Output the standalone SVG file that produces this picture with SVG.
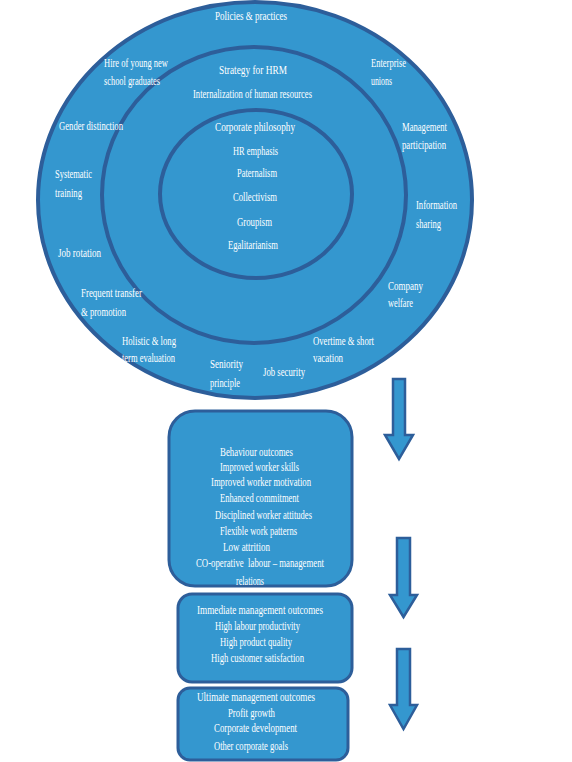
<svg xmlns="http://www.w3.org/2000/svg" width="572" height="762" viewBox="0 0 572 762">
<style>
.ring{fill:#3497cf;stroke:#2d5e9a;stroke-width:4}
.box{fill:#3497cf;stroke:#2d5e9a;stroke-width:3}
.arr{fill:#3497cf;stroke:#2d5e9a;stroke-width:2.5;stroke-linejoin:miter}
text{font-family:"Liberation Serif","Times New Roman",serif;font-size:12px;fill:#ffffff}
</style>
<rect width="572" height="762" fill="#ffffff"/>
<g id="outer-ring">
<ellipse class="ring" cx="255" cy="200" rx="217" ry="198"/>
</g>
<g id="middle-ring">
<ellipse class="ring" cx="254" cy="195" rx="152" ry="148"/>
</g>
<g id="inner-ring">
<ellipse class="ring" cx="256" cy="194" rx="96" ry="84"/>
</g>
<g id="outer-ring-labels">
<text x="215" y="20" textLength="72" lengthAdjust="spacingAndGlyphs">Policies &amp; practices</text>
<text x="104" y="67" textLength="64" lengthAdjust="spacingAndGlyphs">Hire of young new</text>
<text x="104" y="85" textLength="56" lengthAdjust="spacingAndGlyphs">school graduates</text>
<text x="59" y="130" textLength="64" lengthAdjust="spacingAndGlyphs">Gender distinction</text>
<text x="55" y="178" textLength="37" lengthAdjust="spacingAndGlyphs">Systematic</text>
<text x="55" y="197" textLength="27" lengthAdjust="spacingAndGlyphs">training</text>
<text x="58" y="257" textLength="43" lengthAdjust="spacingAndGlyphs">Job rotation</text>
<text x="81" y="297" textLength="61" lengthAdjust="spacingAndGlyphs">Frequent transfer</text>
<text x="81" y="316" textLength="45" lengthAdjust="spacingAndGlyphs">&amp; promotion</text>
<text x="122" y="345" textLength="54" lengthAdjust="spacingAndGlyphs">Holistic &amp; long</text>
<text x="122" y="362" textLength="53" lengthAdjust="spacingAndGlyphs">term evaluation</text>
<text x="210" y="368" textLength="33" lengthAdjust="spacingAndGlyphs">Seniority</text>
<text x="210" y="387" textLength="30" lengthAdjust="spacingAndGlyphs">principle</text>
<text x="263" y="376" textLength="42" lengthAdjust="spacingAndGlyphs">Job security</text>
<text x="313" y="345" textLength="61" lengthAdjust="spacingAndGlyphs">Overtime &amp; short</text>
<text x="313" y="362" textLength="30" lengthAdjust="spacingAndGlyphs">vacation</text>
<text x="388" y="290" textLength="35" lengthAdjust="spacingAndGlyphs">Company</text>
<text x="388" y="307" textLength="25" lengthAdjust="spacingAndGlyphs">welfare</text>
<text x="416" y="209" textLength="41" lengthAdjust="spacingAndGlyphs">Information</text>
<text x="416" y="228" textLength="25" lengthAdjust="spacingAndGlyphs">sharing</text>
<text x="402" y="131" textLength="45" lengthAdjust="spacingAndGlyphs">Management</text>
<text x="402" y="149" textLength="44" lengthAdjust="spacingAndGlyphs">participation</text>
<text x="371" y="67" textLength="35" lengthAdjust="spacingAndGlyphs">Enterprise</text>
<text x="371" y="85" textLength="21" lengthAdjust="spacingAndGlyphs">unions</text>
</g>
<g id="middle-ring-labels">
<text x="219" y="74" textLength="68" lengthAdjust="spacingAndGlyphs">Strategy for HRM</text>
<text x="193" y="98" textLength="119" lengthAdjust="spacingAndGlyphs">Internalization of human resources</text>
</g>
<g id="inner-ring-labels">
<text x="215" y="131" textLength="80" lengthAdjust="spacingAndGlyphs">Corporate philosophy</text>
<text x="233" y="155" textLength="45" lengthAdjust="spacingAndGlyphs">HR emphasis</text>
<text x="237" y="177" textLength="40" lengthAdjust="spacingAndGlyphs">Paternalism</text>
<text x="233" y="201" textLength="44" lengthAdjust="spacingAndGlyphs">Collectivism</text>
<text x="237" y="226" textLength="35" lengthAdjust="spacingAndGlyphs">Groupism</text>
<text x="228" y="249" textLength="50" lengthAdjust="spacingAndGlyphs">Egalitarianism</text>
</g>
<g id="behaviour-outcomes">
<rect class="box" x="169" y="411" width="183" height="175" rx="26" ry="26"/>
<text x="220" y="456" textLength="73" lengthAdjust="spacingAndGlyphs">Behaviour outcomes</text>
<text x="220" y="471" textLength="79" lengthAdjust="spacingAndGlyphs">Improved worker skills</text>
<text x="211" y="486" textLength="100" lengthAdjust="spacingAndGlyphs">Improved worker motivation</text>
<text x="220" y="502" textLength="79" lengthAdjust="spacingAndGlyphs">Enhanced commitment</text>
<text x="215" y="519" textLength="97" lengthAdjust="spacingAndGlyphs">Disciplined worker attitudes</text>
<text x="220" y="535" textLength="77" lengthAdjust="spacingAndGlyphs">Flexible work patterns</text>
<text x="223" y="551" textLength="47" lengthAdjust="spacingAndGlyphs">Low attrition</text>
<text x="196" y="567" textLength="128" lengthAdjust="spacingAndGlyphs" xml:space="preserve">CO-operative  labour – management</text>
<text x="236" y="585" textLength="28" lengthAdjust="spacingAndGlyphs">relations</text>
</g>
<g id="immediate-outcomes">
<rect class="box" x="178" y="594" width="174" height="88" rx="14" ry="14"/>
<text x="197" y="614" textLength="126" lengthAdjust="spacingAndGlyphs">Immediate management outcomes</text>
<text x="215" y="630" textLength="85" lengthAdjust="spacingAndGlyphs">High labour productivity</text>
<text x="220" y="646" textLength="72" lengthAdjust="spacingAndGlyphs">High product quality</text>
<text x="211" y="662" textLength="93" lengthAdjust="spacingAndGlyphs">High customer satisfaction</text>
</g>
<g id="ultimate-outcomes">
<rect class="box" x="178" y="688" width="170" height="72" rx="12" ry="12"/>
<text x="197" y="701" textLength="118" lengthAdjust="spacingAndGlyphs">Ultimate management outcomes</text>
<text x="228" y="717" textLength="47" lengthAdjust="spacingAndGlyphs">Profit growth</text>
<text x="214" y="732" textLength="83" lengthAdjust="spacingAndGlyphs">Corporate development</text>
<text x="214" y="750" textLength="74" lengthAdjust="spacingAndGlyphs">Other corporate goals</text>
</g>
<g id="connectors">
<path class="arr" d="M393,379 H405 V435 H413 L399,459 L385,435 H393 Z"/>
<path class="arr" d="M397,538 H410 V595 H417 L403.5,617 L390,595 H397 Z"/>
<path class="arr" d="M397,649 H410 V705 H417 L403.5,729 L390,705 H397 Z"/>
</g>
</svg>
